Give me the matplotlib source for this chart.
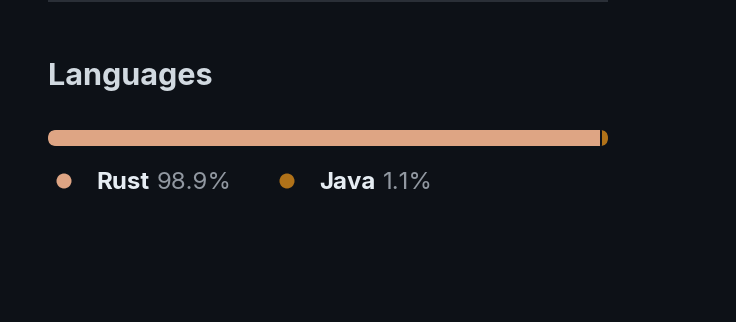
import matplotlib.pyplot as plt
from matplotlib.patches import FancyBboxPatch, Rectangle, Circle

# language breakdown
languages = ['Rust', 'Java']
percents = [98.9, 1.1]
colors = ['#dea584', '#b07219']

bg = '#0d1117'
fig = plt.figure(figsize=(7.36, 3.22), dpi=100, facecolor=bg)
ax = fig.add_axes([0, 0, 1, 1])
ax.set_xlim(0, 736)
ax.set_ylim(322, 0)
ax.set_facecolor(bg)
ax.axis('off')

# divider line at the very top
ax.add_patch(Rectangle((48, 0), 560, 2, color='#2a2f37', lw=0))

# heading
ax.text(48, 85, 'Languages', color='#d1d9e0', fontsize=22,
        fontweight='bold', family='Inter', va='baseline')

# stacked bar
x0, y0, w, h = 48, 130, 560, 16
track = FancyBboxPatch((x0, y0), w, h, boxstyle='round,pad=0,rounding_size=8',
                       lw=0, color=bg)
ax.add_patch(track)
left = x0
for i, (p, c) in enumerate(zip(percents, colors)):
    seg_w = w * p / 100
    r = Rectangle((left, y0), seg_w, h, color=c, lw=0)
    ax.add_patch(r)
    r.set_clip_path(track)
    if i > 0:
        gap = Rectangle((left - 2, y0), 2, h, color=bg, lw=0)
        ax.add_patch(gap)
        gap.set_clip_path(track)
    left += seg_w

# legend
lx = [64, 287]
for name, p, c, cx in zip(languages, percents, colors, lx):
    ax.add_patch(Circle((cx, 181), 7.5, color=c, lw=0))
    t = ax.text(cx + 32, 189, name, color='#e6edf3', fontsize=17.3,
                fontweight='bold', family='Inter', va='baseline')
    fig.canvas.draw()
    bb = t.get_window_extent()
    ax.text(bb.x1 + 8, 189, f'{p}%', color='#9198a1', fontsize=17.3,
            family='Inter', va='baseline')

plt.savefig('out.png', dpi=100, facecolor=bg)
